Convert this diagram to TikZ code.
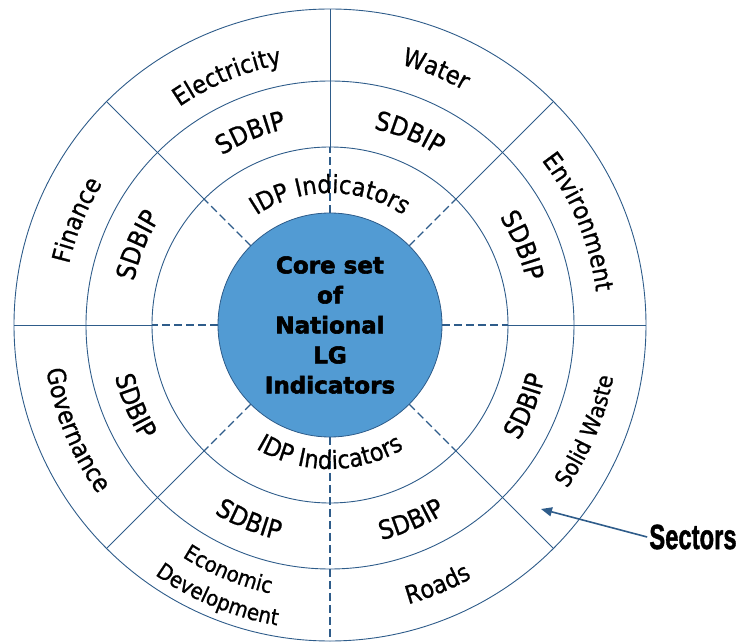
\documentclass[tikz,border=0pt]{standalone}
\usepackage{fontspec}
\usepackage{graphicx}
\usetikzlibrary{decorations.text,arrows.meta}
\newfontfamily\ringface{DejaVu Sans}[FakeStretch=0.9,FakeBold=0.8]
\newfontfamily\coreface{DejaVu Sans}[BoldFeatures={FakeBold=2.5}]
\newfontfamily\tagface{Liberation Sans}[BoldFeatures={FakeBold=1.5}]
\definecolor{spokeblue}{HTML}{2E5C8A}
\definecolor{coreblue}{HTML}{529BD3}
% text bent along an arc: start angle, end angle, radius, size, text
\newcommand{\ringtext}[5]{%
  \path[decorate,decoration={text along path,text align=center,
    text={|\fontsize{#4}{#4}\ringface|#5}}]
    (#1:#3) arc[start angle=#1,end angle=#2,radius=#3];}
\begin{document}
\begin{tikzpicture}[x=1pt,y=1pt,
    ring/.style={draw=spokeblue,line width=0.9pt},
    spoke/.style={draw=spokeblue,line width=0.9pt},
    corespoke/.style={draw=spokeblue,line width=1.4pt,dash pattern=on 8pt off 4pt},
    core/.style={circle,fill=coreblue,draw=spokeblue,line width=0.8pt,
      minimum size=224pt,inner sep=0pt,align=center,
      font=\coreface\bfseries\fontsize{23}{30}\selectfont},
    sectorlabel/.style={font=\tagface\bfseries\fontsize{35}{35}\selectfont,inner sep=2pt},
    pointer/.style={draw=spokeblue,line width=1.6pt,-{Triangle[length=11pt,width=9pt]}}]
  \useasboundingbox (-330,-317) rectangle (407,325);
  % rings
  \foreach \r in {178,244,316}{ \draw[ring] (0,0) circle[radius=\r]; }
  % spokes: dashed next to the core, solid further out
  \foreach \a in {0,45,90,135,180,225,315}{
    \draw[corespoke] (\a:112) -- (\a:178);
    \draw[spoke] (\a:178) -- (\a:316);
  }
  \draw[corespoke] (270:112) -- (270:316);
  \node[core] (core) at (0,0) {Core set\\of\\National\\LG\\Indicators};
  % IDP ring
  \ringtext{135}{45}{132}{25}{IDP Indicators}
  \ringtext{225}{315}{144}{25}{IDP Indicators}
  % SDBIP ring
  \foreach \c in {22.5,67.5,112.5,157.5}{ \ringtext{\c+22.5}{\c-22.5}{201}{26}{SDBIP} }
  \foreach \c in {202.5,247.5,292.5,337.5}{ \ringtext{\c-22.5}{\c+22.5}{221}{26}{SDBIP} }
  % sectors
  \ringtext{180}{135}{268}{25}{Finance}
  \ringtext{135}{90}{265}{25}{Electricity}
  \ringtext{90}{45}{270}{25}{Water}
  \ringtext{45}{0}{268}{25}{Environment}
  \ringtext{-45}{0}{288}{23}{Solid Waste}
  \ringtext{270}{315}{290}{25}{Roads}
  \ringtext{225}{270}{275}{22}{Economic}
  \ringtext{225}{270}{305}{22}{Development}
  \ringtext{180}{225}{287}{25}{Governance}
  % pointer to the sectors
  \node[sectorlabel] (sectors) at (363,-212) {\scalebox{0.68}[1]{Sectors}};
  \coordinate (tip) at (211,-184);
  \draw[pointer] (sectors.west) -- (tip);
\end{tikzpicture}
\end{document}
